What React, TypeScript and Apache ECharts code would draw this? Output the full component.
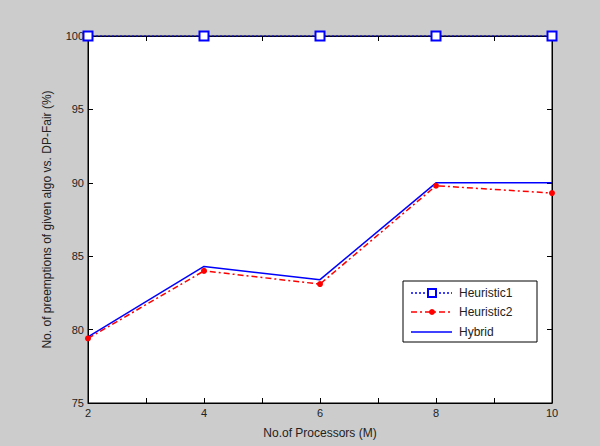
import React, { useEffect, useRef } from "react";
import * as echarts from "echarts";

const processors = [2, 4, 6, 8, 10];
const heuristic1 = [100, 100, 100, 100, 100];
const heuristic2 = [79.4, 84.0, 83.1, 89.8, 89.3];
const hybrid = [79.5, 84.3, 83.4, 90.0, 90.0];
const seriesNames = ["Heuristic1", "Heuristic2", "Hybrid"];

const FONT = "Liberation Sans, Arial, Helvetica, sans-serif";

export default function App() {
  const ref = useRef<HTMLDivElement>(null);
  useEffect(() => {
    if (!ref.current) return;
    const chart = echarts.init(ref.current, undefined, { renderer: "svg" });
    const pair = (ys: number[]) => processors.map((x, i) => [x, ys[i]]);
    const lx = 403, ly = 281;
    const rowY = [293, 312, 332];
    chart.setOption({
      animation: false,
      backgroundColor: "#cccccc",
      grid: {
        left: 88,
        right: 48,
        top: 36,
        bottom: 43,
        show: true,
        backgroundColor: "#ffffff",
        borderColor: "#000000",
        borderWidth: 1,
      },
      xAxis: [
        {
          type: "value",
          min: 2,
          max: 10,
          interval: 1,
          name: "No.of Processors (M)",
          nameLocation: "middle",
          nameGap: 24,
          nameTextStyle: { fontFamily: FONT, fontSize: 12, color: "#222" },
          axisLine: { show: true, lineStyle: { color: "#000", width: 1 } },
          axisTick: { show: true, inside: true, length: 5, lineStyle: { color: "#000" } },
          axisLabel: {
            fontFamily: FONT,
            fontSize: 11,
            color: "#222",
            margin: 4,
            formatter: (v: number) => (v % 2 === 0 ? String(v) : ""),
          },
          splitLine: { show: false },
        },
        {
          type: "value",
          position: "top",
          min: 2,
          max: 10,
          interval: 1,
          axisLine: { show: true, lineStyle: { color: "#000", width: 1 } },
          axisTick: { show: true, inside: true, length: 5, lineStyle: { color: "#000" } },
          axisLabel: { show: false },
          splitLine: { show: false },
        },
      ],
      yAxis: [
        {
          type: "value",
          min: 75,
          max: 100,
          interval: 5,
          name: "No. of preemptions of given algo vs. DP-Fair (%)",
          nameLocation: "middle",
          nameGap: 35,
          nameTextStyle: { fontFamily: FONT, fontSize: 12, color: "#222" },
          axisLine: { show: true, lineStyle: { color: "#000", width: 1 } },
          axisTick: { show: true, inside: true, length: 5, lineStyle: { color: "#000" } },
          axisLabel: { fontFamily: FONT, fontSize: 11, color: "#222", margin: 4 },
          splitLine: { show: false },
        },
        {
          type: "value",
          position: "right",
          min: 75,
          max: 100,
          interval: 5,
          axisLine: { show: true, lineStyle: { color: "#000", width: 1 } },
          axisTick: { show: true, inside: true, length: 5, lineStyle: { color: "#000" } },
          axisLabel: { show: false },
          splitLine: { show: false },
        },
      ],
      series: [
        {
          name: seriesNames[0],
          type: "line",
          data: pair(heuristic1),
          clip: false,
          symbol: "rect",
          symbolSize: 9,
          showAllSymbol: true,
          z: 5,
          lineStyle: { color: "#0000ff", width: 1, type: [2, 2] },
          itemStyle: { color: "#ffffff", borderColor: "#0000ff", borderWidth: 2 },
        },
        {
          name: seriesNames[1],
          type: "line",
          data: pair(heuristic2),
          clip: false,
          symbol: "circle",
          symbolSize: 6,
          lineStyle: { color: "#ff0000", width: 1.5, type: [6, 3, 2, 3] },
          itemStyle: { color: "#ff0000" },
        },
        {
          name: seriesNames[2],
          type: "line",
          data: pair(hybrid),
          clip: false,
          symbol: "none",
          z: 3,
          lineStyle: { color: "#0000ff", width: 1.5, type: "solid" },
        },
      ],
      graphic: [
        {
          type: "rect",
          shape: { x: lx, y: ly, width: 134, height: 61 },
          style: { fill: "#ffffff", stroke: "#000000", lineWidth: 1 },
          z: 100,
        },
        {
          type: "line",
          shape: { x1: 411, y1: rowY[0], x2: 452, y2: rowY[0] },
          style: { stroke: "#0000ff", lineWidth: 1.5, lineDash: [2, 2] },
          z: 101,
        },
        {
          type: "rect",
          shape: { x: 428, y: rowY[0] - 4, width: 8, height: 8 },
          style: { fill: "#ffffff", stroke: "#0000ff", lineWidth: 2 },
          z: 102,
        },
        {
          type: "line",
          shape: { x1: 411, y1: rowY[1], x2: 452, y2: rowY[1] },
          style: { stroke: "#ff0000", lineWidth: 1.5, lineDash: [6, 3, 2, 3] },
          z: 101,
        },
        {
          type: "circle",
          shape: { cx: 432, cy: rowY[1], r: 3 },
          style: { fill: "#ff0000" },
          z: 102,
        },
        {
          type: "line",
          shape: { x1: 411, y1: rowY[2], x2: 452, y2: rowY[2] },
          style: { stroke: "#0000ff", lineWidth: 1.5 },
          z: 101,
        },
        ...seriesNames.map((n, i) => ({
          type: "text",
          x: 459,
          y: rowY[i],
          z: 102,
          style: {
            text: n,
            fill: "#222",
            font: `12px ${FONT}`,
            textVerticalAlign: "middle",
            verticalAlign: "middle",
          },
        })),
      ],
    });
    return () => chart.dispose();
  }, []);
  return (
    <div
      ref={ref}
      style={{ position: "fixed", left: 0, top: 0, width: 600, height: 446 }}
    />
  );
}
